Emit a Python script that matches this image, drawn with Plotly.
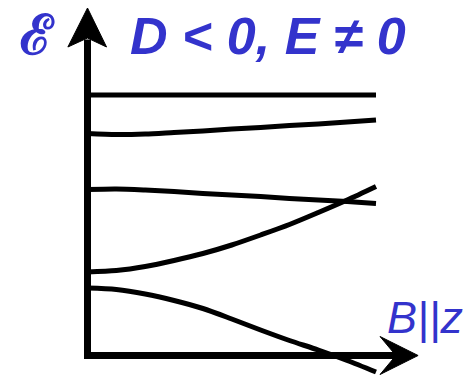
import plotly.graph_objects as go

# Magnetic field along z (arbitrary units) and the five energy levels
b_field = [0.0, 0.1, 0.2, 0.3, 0.4, 0.5, 0.6, 0.7, 0.8, 0.9, 1.0]
level_1 = [2.605, 2.605, 2.605, 2.605, 2.605, 2.605, 2.605, 2.605, 2.605, 2.605, 2.605]
level_2 = [2.22, 2.21, 2.215, 2.23, 2.245, 2.265, 2.28, 2.30, 2.315, 2.335, 2.355]
level_3 = [1.66, 1.665, 1.655, 1.64, 1.62, 1.605, 1.59, 1.57, 1.555, 1.54, 1.52]
level_4 = [0.835, 0.85, 0.89, 0.95, 1.02, 1.105, 1.205, 1.31, 1.43, 1.555, 1.69]
level_5 = [0.675, 0.66, 0.615, 0.55, 0.47, 0.365, 0.255, 0.15, 0.055, -0.05, -0.165]
levels = [level_1, level_2, level_3, level_4, level_5]

title_text = "<b><i>D < 0, E ≠ 0</i></b>"
energy_label = "<b>ℰ</b>"
field_label = "<i>B||z</i>"

BLUE = "#3333CC"
FONT = "Liberation Sans, Arial, sans-serif"

fig = go.Figure()
for lv in levels:
    fig.add_trace(go.Scatter(x=b_field, y=lv, mode="lines",
                             line=dict(color="black", width=5, shape="spline", smoothing=0.8),
                             hoverinfo="skip", showlegend=False))

# Axes with arrowheads
shapes = [
    dict(type="line", x0=0, x1=0, y0=-0.035, y1=3.16, line=dict(color="black", width=7), layer="above"),
    dict(type="line", x0=-0.012, x1=1.075, y0=0, y1=0, line=dict(color="black", width=7), layer="above"),
    dict(type="path", path="M 0 3.475 L 0.066 3.085 L 0 3.175 L -0.068 3.085 Z",
         fillcolor="black", line=dict(color="black", width=1), layer="above"),
    dict(type="path", path="M 1.146 0.0 L 1.014 0.19 L 1.069 0.0 L 1.014 -0.19 Z",
         fillcolor="black", line=dict(color="black", width=1), layer="above"),
]

annotations = [
    dict(text=title_text, x=128 / 467, y=1 - 36 / 375, xref="paper", yref="paper",
         xanchor="left", yanchor="middle", showarrow=False,
         font=dict(family=FONT, size=52, color=BLUE)),
    dict(text=energy_label, x=37 / 467, y=1 - 34 / 375, xref="paper", yref="paper",
         xanchor="center", yanchor="middle", showarrow=False,
         font=dict(family="DejaVu Serif, serif", size=55, color=BLUE)),
    dict(text=field_label, x=385 / 467, y=1 - 317 / 375, xref="paper", yref="paper",
         xanchor="left", yanchor="middle", showarrow=False,
         font=dict(family=FONT, size=45, color=BLUE)),
]

fig.update_layout(
    width=467, height=375,
    margin=dict(l=0, r=0, t=0, b=0),
    paper_bgcolor="white", plot_bgcolor="white",
    xaxis=dict(range=[-87.5 / 288.5, (467 - 87.5) / 288.5], visible=False, fixedrange=True),
    yaxis=dict(range=[-0.195, 3.555], visible=False, fixedrange=True),
    shapes=shapes, annotations=annotations,
)

fig.write_html("out.html", config={"displayModeBar": False})
